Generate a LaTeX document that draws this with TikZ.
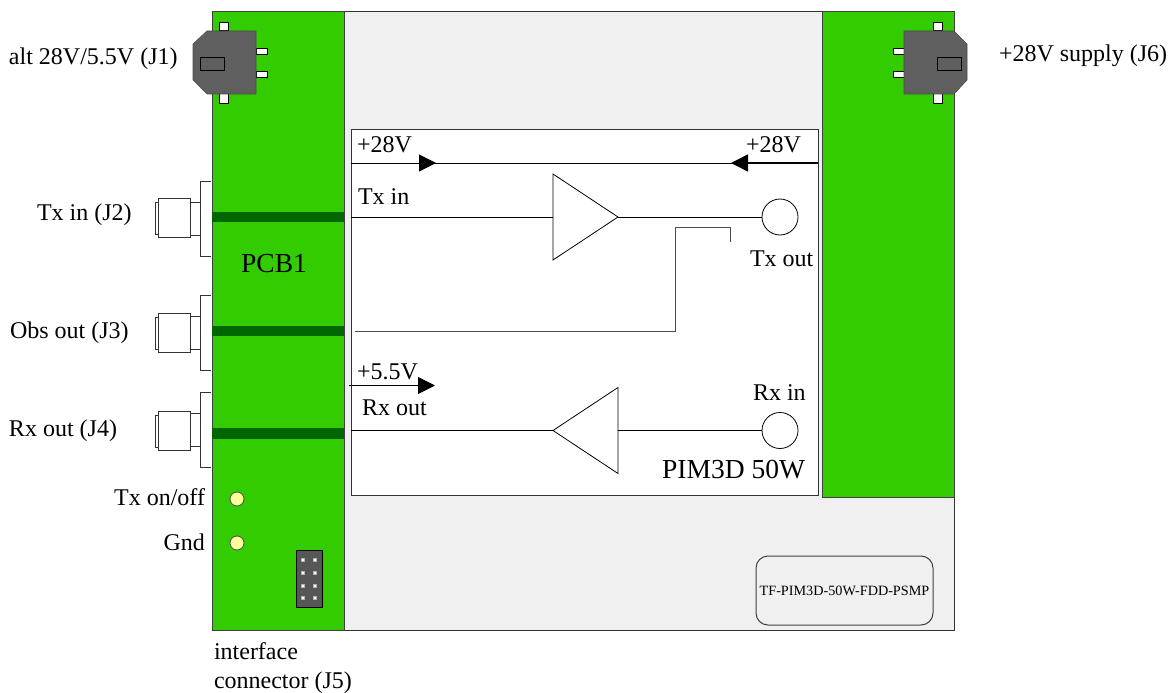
\documentclass[tikz,border=0pt]{standalone}
\usepackage{fontspec}
\setmainfont{Liberation Serif}
\usepackage{tikz}
\usetikzlibrary{arrows.meta,shapes.geometric}
\definecolor{boardgrey}{HTML}{F0F0F0}
\definecolor{pcbgreen}{HTML}{33CC00}
\definecolor{stripgreen}{HTML}{006600}
\definecolor{plugdark}{HTML}{5F5F5F}
\definecolor{ledyellow}{HTML}{FFFF99}

\begin{document}
\begin{tikzpicture}[x=1pt,y=-1pt,
			every node/.style = {inner sep=0pt, outer sep=0pt},
			lbl/.style = {font=\fontsize{24}{29}\selectfont},
			biglbl/.style = {font=\fontsize{27.5}{32}\selectfont},
			wire/.style = {draw=black, line width=1pt},
			railtip/.style = {-{Triangle[length=17pt,width=17pt]}},
			pcb/.style = {fill=pcbgreen, draw=black!75, line width=1pt},
			strip/.style = {fill=stripgreen},
			pinbox/.style = {fill=white, draw=black, line width=1pt},
			plug/.style = {fill=plugdark, draw=plugdark!80!black, line width=.6pt},
			amp/.style = {shape=isosceles triangle, isosceles triangle stretches, draw, fill=white, line width=.8pt, minimum height=65pt, minimum width=86pt},
			port/.style = {shape=circle, draw, fill=white, line width=.8pt, minimum size=36pt},
			led/.style = {shape=circle, draw=black!70, fill=ledyellow, line width=.8pt, minimum size=14pt}]
			\useasboundingbox (0,0) rectangle (1176,693);
			% board and the two pcbs
			\draw[fill=boardgrey, draw=black!80, line width=1pt] (212,12) rectangle (954,630);
			\draw[pcb] (212,12) rectangle (344,630);
			\draw[pcb] (822,12) rectangle (954,497);
			\fill[strip] (212,212) rectangle (344,222);
			\fill[strip] (212,326) rectangle (344,336);
			\fill[strip] (212,428) rectangle (344,439);
			% J1
			\draw[pinbox] (219,23) rectangle (228,31);
			\draw[pinbox] (219,94) rectangle (228,103);
			\draw[pinbox] (256,49) rectangle (267,55);
			\draw[pinbox] (256,72) rectangle (267,78);
			\draw[plug] (207,31) -- (256,31) -- (256,94) -- (207,94) -- (193,80) -- (193,44) -- cycle;
			\draw[fill=plugdark, draw=black, line width=.8pt] (200,57) rectangle (224,70);
			% J6
			\draw[pinbox] (933,23) rectangle (942,31);
			\draw[pinbox] (933,94) rectangle (942,103);
			\draw[pinbox] (893,49) rectangle (904,55);
			\draw[pinbox] (893,72) rectangle (904,78);
			\draw[plug] (904,31) -- (954,31) -- (967,44) -- (967,80) -- (954,94) -- (904,94) -- cycle;
			\draw[fill=plugdark, draw=black, line width=.8pt] (937,57) rectangle (961,70);
			% coax connectors J2 J3 J4
			\foreach \y/\t in {181/198,295/313,392/411}{
				\draw[fill=white, draw=black!80, line width=.9pt] (211,\y) -- (200,\y) -- (200,\y+75) -- (211,\y+75);
				\draw[fill=white, draw=black!80, line width=.9pt] (190,\y+21) rectangle (200,\y+54);
				\draw[fill=white, draw=black!80, line width=.9pt] (155,\t+4) rectangle (159,\t+36);
				\draw[fill=white, draw=black!80, line width=.9pt] (158.5,\t) rectangle (190,\t+39);
			}
			% module
			\draw[fill=white, draw=black!80, line width=1pt] (351,129) rectangle (818,495);
			\coordinate (railL) at (351,163);
			\coordinate (railR) at (818,163);
			\coordinate (railLtip) at (436,163);
			\coordinate (railRtip) at (731,163);
			\coordinate (txin) at (351,217);
			\coordinate (obsL) at (355,331);
			\coordinate (obsR) at (730,242);
			\coordinate (lowL) at (349,385.5);
			\coordinate (lowtip) at (435,385.5);
			\coordinate (rxoutL) at (351,430.5);
			\node[amp, anchor=lower side] (txamp) at (553,217) {};
			\node[amp, anchor=lower side, shape border rotate=180] (rxamp) at (618,430.5) {};
			\node[port] (txport) at (780,217) {};
			\node[port] (rxport) at (780,430.5) {};
			\draw[wire] (railL) -- (railR);
			\draw[wire, railtip] (railL) -- (railLtip);
			\draw[wire, railtip, line width=1.6pt] (railR) -- (railRtip);
			\draw[wire] (txin) -- (txamp.lower side);
			\draw[wire] (txamp.apex) -- (txport);
			\draw[wire, draw=black!70] (obsL) -- (675,331) -- (675,227) -- (730,227) -- (obsR);
			\draw[wire, railtip] (lowL) -- (lowtip);
			\draw[wire] (rxport) -- (rxamp.lower side);
			\draw[wire] (rxamp.apex) -- (rxoutL);
			% leds and header
			\node[led] (ledtx) at (237,499) {};
			\node[led] (ledgnd) at (237,543) {};
			\draw[fill=plugdark!90!black, draw=black, line width=.8pt] (296,550) rectangle (322,607);
			\foreach \y in {559.5,572.5,585.5,598}{
				\fill[white, draw=black!30, line width=.3pt] (301.5,\y-1.5) rectangle (304.5,\y+1.5);
				\fill[white, draw=black!30, line width=.3pt] (313.5,\y-1.5) rectangle (316.5,\y+1.5);
			}
			\node[draw=black!75, line width=1pt, rounded corners=12pt, minimum width=177pt, minimum height=69pt, font=\fontsize{14.2}{16}\selectfont] (partno) at (844.5,590.5) {TF-PIM3D-50W-FDD-PSMP};
			% labels
			\node[lbl, anchor=west] (lj1) at (9,59) {alt 28V/5.5V (J1)};
			\node[lbl, anchor=west] (lj6) at (999,56) {+28V supply (J6)};
			\node[lbl, anchor=west] (lj2) at (37,215) {Tx in (J2)};
			\node[lbl, anchor=west] (lj3) at (10,333) {Obs out (J3)};
			\node[lbl, anchor=west] (lj4) at (9,431) {Rx out (J4)};
			\node[lbl, anchor=east] (ltx) at (205,497) {Tx on/off};
			\node[lbl, anchor=east] (lgnd) at (205,542) {Gnd};
			\node[lbl, anchor=north west, align=left] (lj5) at (214,643) {interface\\connector (J5)};
			\node[biglbl] (lpcb) at (274,264) {PCB1};
			\node[lbl, anchor=west] (v28a) at (357,145) {+28V};
			\node[lbl, anchor=west] (v28b) at (746,145) {+28V};
			\node[lbl, anchor=west] (ltxin) at (358,197) {Tx in};
			\node[lbl, anchor=west] (ltxout) at (750,259) {Tx out};
			\node[lbl, anchor=west] (v55) at (357,372) {+5.5V};
			\node[lbl, anchor=west] (lrxout) at (362,408) {Rx out};
			\node[lbl, anchor=west] (lrxin) at (753,393) {Rx in};
			\node[biglbl, anchor=east] (lpim) at (805,470) {PIM3D 50W};
		\end{tikzpicture}
\end{document}
